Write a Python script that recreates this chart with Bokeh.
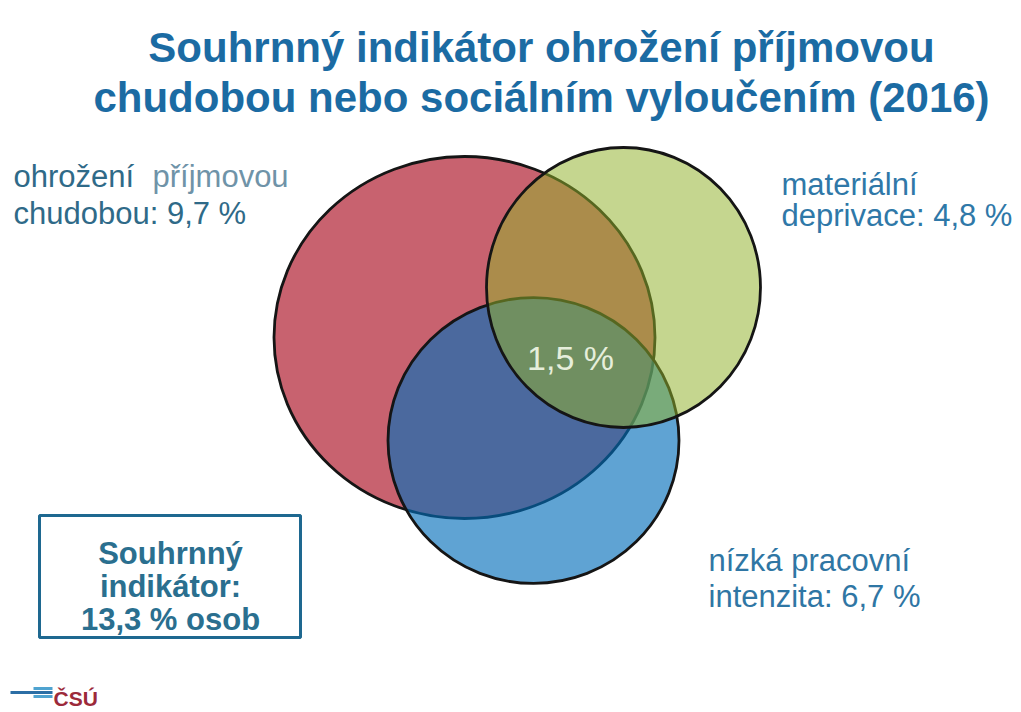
from bokeh.plotting import figure
from bokeh.models import Range1d
from bokeh.core.properties import value
from bokeh.embed import file_html
from bokeh.resources import INLINE

# ---- data ----
title_lines = ["Souhrnný indikátor ohrožení příjmovou",
               "chudobou nebo sociálním vyloučením (2016)"]
sets = ["ohrožení příjmovou chudobou", "materiální deprivace", "nízká pracovní intenzita"]
set_values = [9.7, 4.8, 6.7]          # %
all_three = 1.5                        # %
summary_value = 13.3                   # %

def fmt(v):
    return f"{v:.1f}".replace(".", ",") + " %"

# ---- layout (reference pixel coords) ----
W, H = 1021, 712
def Y(y):
    return H - y

p = figure(width=W, height=H, x_range=Range1d(0, W), y_range=Range1d(0, H),
           output_backend="svg", toolbar_location=None, min_border=0,
           background_fill_color="white", border_fill_color="white")
p.axis.visible = False
p.grid.visible = False
p.outline_line_color = None

FONT = value("Liberation Sans")

# ellipses: red (opaque), blue (alpha), green (alpha)
ell = dict(
    x=[464, 533, 623],
    y=[Y(337), Y(440), Y(287)],
    w=[381, 291, 274],
    h=[362, 286, 280],
    fill=["#c8626f", "#016db9", "#91b12b"],
    alpha=[1.0, 0.63, 0.53],
)
for i in range(3):
    p.ellipse(x=[ell["x"][i]], y=[ell["y"][i]], width=[ell["w"][i]], height=[ell["h"][i]],
              fill_color=ell["fill"][i], fill_alpha=ell["alpha"][i],
              line_color="#151515", line_width=2.8)

# title
for t, yy in zip(title_lines, [47, 97]):
    p.text(x=[541], y=[Y(yy)], text=[t], text_font=FONT, text_font_style="bold",
           text_font_size="42px", text_color="#1b6ba3", text_align="center",
           text_baseline="alphabetic")

lab = dict(text_font=FONT, text_font_size="31px", text_baseline="alphabetic",
           text_align="left")
# left label
p.text(x=[13], y=[Y(176)], text=["ohrožení"], text_color="#2f6a88", **lab)
p.text(x=[152], y=[Y(176)], text=["příjmovou"], text_color="#6f93a8", **lab)
p.text(x=[13], y=[Y(213)], text=["chudobou: " + fmt(set_values[0])], text_color="#2f6a88", **lab)
# right top label
p.text(x=[781], y=[Y(184)], text=["materiální"], text_color="#2f78a8", **lab)
p.text(x=[781], y=[Y(215)], text=["deprivace: " + fmt(set_values[1])], text_color="#2f78a8", **lab)
# right bottom label
p.text(x=[708], y=[Y(560)], text=["nízká pracovní"], text_color="#2f76a4", **lab)
p.text(x=[708], y=[Y(596)], text=["intenzita: " + fmt(set_values[2])], text_color="#2f76a4", **lab)

# center value
p.text(x=[570], y=[Y(357)], text=[fmt(all_three)], text_font=FONT, text_font_size="34px",
       text_color="#e6eedb", text_align="center", text_baseline="alphabetic")

# summary box
p.quad(left=[39], right=[300], top=[Y(515)], bottom=[Y(637)], fill_color="white",
       line_color="#1e6890", line_width=3)
for t, yy in zip(["Souhrnný", "indikátor:", fmt(summary_value) + " osob"], [553, 586, 619]):
    p.text(x=[170], y=[Y(yy)], text=[t], text_font=FONT, text_font_style="bold",
           text_font_size="31px", text_color="#2a6f8f", text_align="center",
           text_baseline="alphabetic")

# logo
p.segment(x0=[33, 10, 33], y0=[Y(688), Y(692), Y(696)], x1=[52, 52, 52],
          y1=[Y(688), Y(692), Y(696)], line_color=["#4fa3d0", "#2b6ea5", "#4fa3d0"],
          line_width=3)
p.text(x=[53], y=[Y(698)], text=["ČSÚ"], text_font=FONT, text_font_style="bold",
       text_font_size="21px", text_color="#9c2a3a", text_align="left",
       text_baseline="alphabetic")

open("out.html", "w").write(file_html(p, INLINE))
